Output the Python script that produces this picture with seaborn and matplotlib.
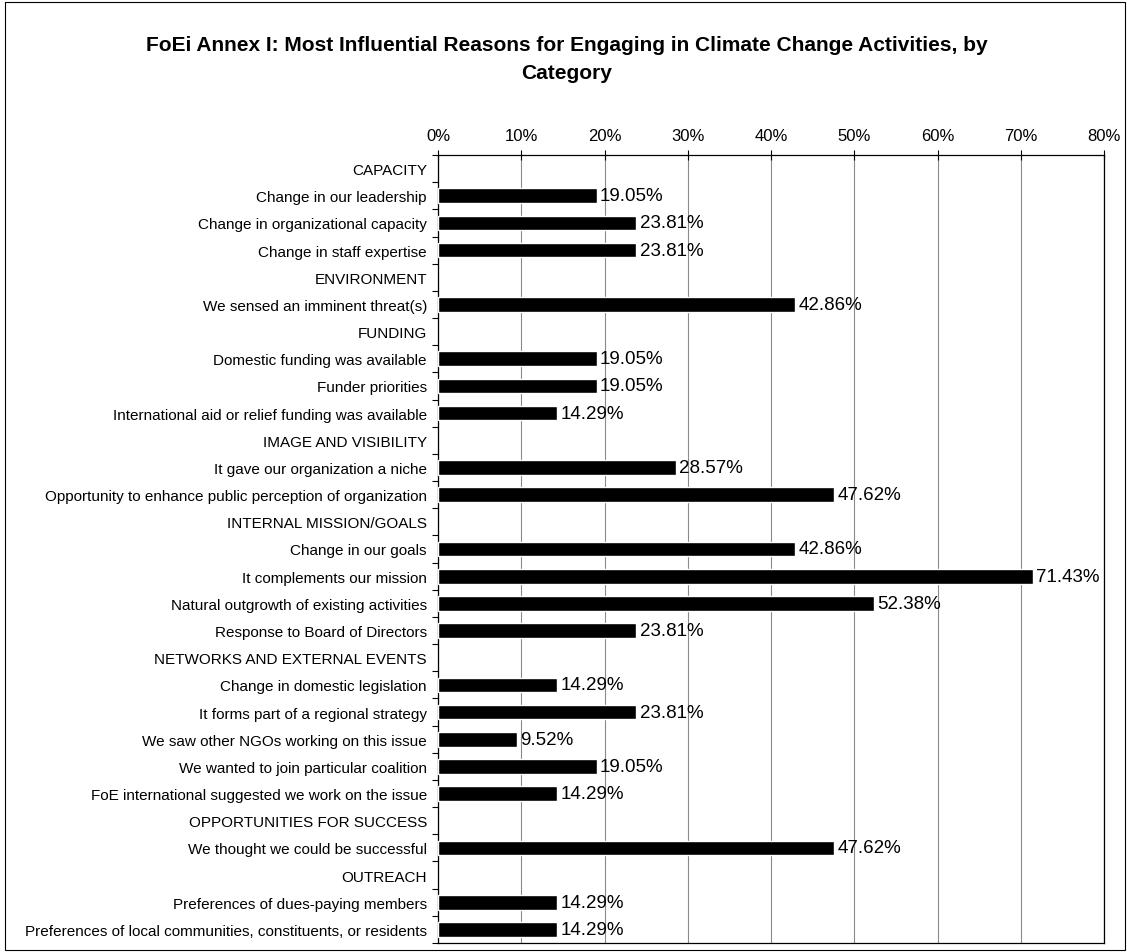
import matplotlib
matplotlib.use("Agg")
import matplotlib.pyplot as plt
import seaborn as sns
import pandas as pd
import numpy as np
from matplotlib.ticker import FuncFormatter, FixedLocator

# Survey categories and the reasons listed under each one
groups = [
    "CAPACITY",
    "ENVIRONMENT",
    "FUNDING",
    "IMAGE AND VISIBILITY",
    "INTERNAL MISSION/GOALS",
    "NETWORKS AND EXTERNAL EVENTS",
    "OPPORTUNITIES FOR SUCCESS",
    "OUTREACH",
]

capacity_items = ["Change in our leadership", "Change in organizational capacity",
                  "Change in staff expertise"]
capacity_vals = [19.05, 23.81, 23.81]

environment_items = ["We sensed an imminent threat(s)"]
environment_vals = [42.86]

funding_items = ["Domestic funding was available", "Funder priorities",
                 "International aid or relief funding was available"]
funding_vals = [19.05, 19.05, 14.29]

image_items = ["It gave our organization a niche",
               "Opportunity to enhance public perception of organization"]
image_vals = [28.57, 47.62]

mission_items = ["Change in our goals", "It complements our mission",
                 "Natural outgrowth of existing activities",
                 "Response to Board of Directors"]
mission_vals = [42.86, 71.43, 52.38, 23.81]

network_items = ["Change in domestic legislation", "It forms part of a regional strategy",
                 "We saw other NGOs working on this issue",
                 "We wanted to join particular coalition",
                 "FoE international suggested we work on the issue"]
network_vals = [14.29, 23.81, 9.52, 19.05, 14.29]

success_items = ["We thought we could be successful"]
success_vals = [47.62]

outreach_items = ["Preferences of dues-paying members",
                  "Preferences of local communities, constituents, or residents"]
outreach_vals = [14.29, 14.29]

x_ticks = [0, 10, 20, 30, 40, 50, 60, 70, 80]

item_lists = [capacity_items, environment_items, funding_items, image_items,
              mission_items, network_items, success_items, outreach_items]
value_lists = [capacity_vals, environment_vals, funding_vals, image_vals,
               mission_vals, network_vals, success_vals, outreach_vals]

rows = []
for g, its, vals in zip(groups, item_lists, value_lists):
    rows.append((g, np.nan, True))
    for it, v in zip(its, vals):
        rows.append((it, v, False))
df = pd.DataFrame(rows, columns=["label", "value", "header"])
order = list(df["label"])

sns.set_style("white")
plt.rcParams["font.family"] = ["Liberation Sans", "DejaVu Sans"]
plt.rcParams.update({"text.color": "black", "axes.labelcolor": "black",
                     "xtick.color": "black", "ytick.color": "black"})

W, H = 1127, 953
fig = plt.figure(figsize=(W / 100, H / 100), dpi=100)
ax = fig.add_axes([438 / W, 1 - 944 / H, (1104 - 438) / W, (944 - 156) / H])

sns.barplot(data=df.dropna(subset=["value"]), x="value", y="label", order=order,
            orient="h", color="black", saturation=1, width=0.54, ax=ax, zorder=3)

ax.set_xlim(0, 80)
ax.set_ylim(len(order) - 0.5, -0.5)
ax.xaxis.tick_top()
ax.xaxis.set_major_locator(FixedLocator(x_ticks))
ax.xaxis.set_major_formatter(FuncFormatter(lambda v, p: f"{v:.0f}%"))
ax.tick_params(axis="x", top=True, direction="inout", length=7, width=0.8,
               color="black", labelcolor="black", labelsize=12, pad=5)
ax.grid(axis="x", color="#8a8a8a", linewidth=0.8, zorder=0)
ax.set_axisbelow(True)
ax.set_xlabel("")
ax.set_ylabel("")

# Category labels on the left, with tick marks between rows
ax.tick_params(axis="y", which="major", length=0, labelsize=11, pad=8,
               labelcolor="black")
ax.yaxis.set_minor_locator(FixedLocator(np.arange(-0.5, len(order) + 0.5, 1.0)))
ax.tick_params(axis="y", which="minor", left=True, length=4, width=0.8, color="black")

for sp in ax.spines.values():
    sp.set_color("black")
    sp.set_linewidth(0.9)

for i, (v, h) in enumerate(zip(df["value"], df["header"])):
    if not h:
        ax.text(v + 0.4, i, f"{v:.2f}%", va="center", ha="left",
                fontsize=13.5, color="black", zorder=4)

fig.suptitle("FoEi Annex I: Most Influential Reasons for Engaging in Climate Change Activities, by\nCategory",
             x=0.503, y=1 - 36 / H, fontsize=15, fontweight="bold", linespacing=1.62,
             color="black")

fig.patches.append(plt.Rectangle((0.004, 0.002), 0.994, 0.995, transform=fig.transFigure,
                                 fill=False, edgecolor="black", linewidth=0.8))

fig.savefig("out.png", dpi=100, facecolor="white")
